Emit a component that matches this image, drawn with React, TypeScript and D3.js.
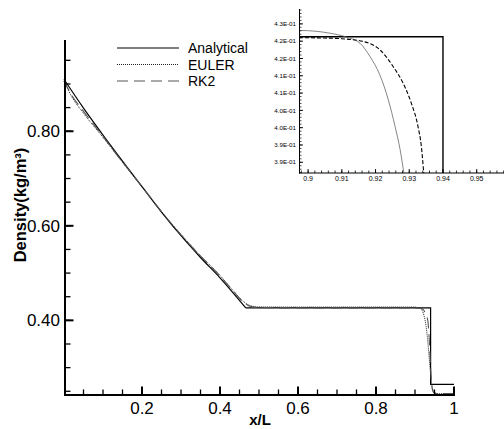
import React from "react";
import * as d3 from "d3";

// Analytical solution: rarefaction fan, then plateau and jump
const fanX = [0, 0.05, 0.1, 0.15, 0.2, 0.25, 0.3, 0.35, 0.4, 0.466];
const fanRho = [0.91, 0.849, 0.792, 0.737, 0.683, 0.629, 0.579, 0.533, 0.49, 0.4263];
const stepX = [0.466, 0.94, 0.94, 1.0];
const stepRho = [0.4263, 0.4263, 0.2645, 0.2645];

// Explicit Euler time integration
const eulerX = [
  0, 0.02, 0.05, 0.1, 0.15, 0.2, 0.25, 0.3, 0.35, 0.4, 0.44, 0.46, 0.48, 0.5, 0.6, 0.7, 0.8, 0.85,
  0.8976, 0.9065, 0.911, 0.9154, 0.9184, 0.9213, 0.9238, 0.9258, 0.9273, 0.9284, 0.93, 0.932, 0.935,
  0.938, 0.941, 0.944, 0.948, 0.953, 0.96, 1.0,
];
const eulerRho = [
  0.906, 0.873, 0.838, 0.787, 0.734, 0.682, 0.63, 0.582, 0.537, 0.495, 0.457, 0.44, 0.4305, 0.4285,
  0.4281, 0.4281, 0.4282, 0.4282, 0.4281, 0.4273, 0.4263, 0.4244, 0.4205, 0.4152, 0.408, 0.4003,
  0.3936, 0.3869, 0.377, 0.362, 0.335, 0.305, 0.278, 0.26, 0.25, 0.246, 0.245, 0.245,
];

// Second-order Runge-Kutta time integration
const rk2X = [
  0, 0.02, 0.05, 0.1, 0.15, 0.2, 0.25, 0.3, 0.35, 0.4, 0.44, 0.46, 0.48, 0.5, 0.6, 0.7, 0.8, 0.85,
  0.8973, 0.905, 0.91, 0.9164, 0.9213, 0.9252, 0.9282, 0.9306, 0.9326, 0.9336, 0.9343, 0.936, 0.938,
  0.94, 0.942, 0.944, 0.947, 0.952, 1.0,
];
const rk2Rho = [
  0.907, 0.876, 0.842, 0.789, 0.735, 0.683, 0.63, 0.581, 0.536, 0.494, 0.456, 0.438, 0.429, 0.427,
  0.4263, 0.4262, 0.4261, 0.4261, 0.426, 0.4259, 0.4257, 0.4249, 0.4225, 0.4177, 0.4128, 0.4071,
  0.4003, 0.3945, 0.3869, 0.368, 0.335, 0.3, 0.272, 0.256, 0.248, 0.2455, 0.245,
];

const xTicks = [0.2, 0.4, 0.6, 0.8, 1.0];
const xTickLabels = ["0.2", "0.4", "0.6", "0.8", "1"];
const yTicks = [0.4, 0.6, 0.8];
const yTickLabels = ["0.40", "0.60", "0.80"];

const insetXTicks = [0.9, 0.91, 0.92, 0.93, 0.94, 0.95];
const insetXTickLabels = ["0.9", "0.91", "0.92", "0.93", "0.94", "0.95"];
const insetYTicks = [0.39, 0.395, 0.4, 0.405, 0.41, 0.415, 0.42, 0.425, 0.43];
const insetYTickLabels = [
  "3.9E-01", "3.9E-01", "4.0E-01", "4.0E-01", "4.1E-01", "4.1E-01", "4.2E-01", "4.2E-01", "4.3E-01",
];

const legendNames = ["Analytical", "EULER", "RK2"];

const FONT = "'Liberation Sans', Arial, Helvetica, sans-serif";

const zip = (xs: number[], ys: number[]): [number, number][] => xs.map((x, i) => [x, ys[i]]);

export default function App() {
  const W = 504;
  const H = 429;

  // main frame
  const x = d3.scaleLinear().domain([0, 1]).range([64, 454]);
  const y = d3.scaleLinear().domain([0.24, 0.993]).range([396, 40]);

  // inset frame
  const ix = d3.scaleLinear().domain([0.8973, 0.9581]).range([299, 504]);
  const iy = d3.scaleLinear().domain([0.3869, 0.4343]).range([173, 9]);

  const smooth = (sx: any, sy: any) =>
    d3.line<[number, number]>().x((d) => sx(d[0])).y((d) => sy(d[1])).curve(d3.curveMonotoneX);
  const straight = (sx: any, sy: any) =>
    d3.line<[number, number]>().x((d) => sx(d[0])).y((d) => sy(d[1])).curve(d3.curveLinear);

  const fan = zip(fanX, fanRho);
  const step = zip(stepX, stepRho);
  const euler = zip(eulerX, eulerRho);
  const rk2 = zip(rk2X, rk2Rho);

  const xMinor = d3.range(0.05, 1.0001, 0.05);
  const yMinor = d3.range(0.25, 0.9501, 0.05);
  const ixMinor = d3.range(0.898, 0.9581, 0.002);
  const iyMinor = d3.range(0.387, 0.4343, 0.001);

  const styles = {
    analytical: { stroke: "#000", strokeWidth: 1.2, dash: undefined as string | undefined },
    euler: { stroke: "#222", strokeWidth: 1, dash: "1,1" },
    rk2: { stroke: "#555", strokeWidth: 1.1, dash: "11,6" },
  };
  const legendStyles = [styles.analytical, styles.euler, styles.rk2];
  const legendY = [48, 64.5, 81];

  return (
    <svg
      width={W}
      height={H}
      style={{ position: "absolute", left: 0, top: 0, background: "#fff" }}
      fontFamily={FONT}
    >
      <defs>
        <clipPath id="insetClip">
          <rect x={299} y={9} width={205} height={164} />
        </clipPath>
      </defs>
      <rect x={0} y={0} width={W} height={H} fill="#fff" />

      {/* main curves */}
      <g fill="none">
        <path d={smooth(x, y)(fan) || ""} stroke={styles.analytical.stroke} strokeWidth={styles.analytical.strokeWidth} />
        <path d={straight(x, y)(step) || ""} stroke={styles.analytical.stroke} strokeWidth={styles.analytical.strokeWidth} />
        <path d={smooth(x, y)(euler) || ""} stroke={styles.euler.stroke} strokeWidth={styles.euler.strokeWidth} strokeDasharray={styles.euler.dash} />
        <path d={smooth(x, y)(rk2) || ""} stroke={styles.rk2.stroke} strokeWidth={styles.rk2.strokeWidth} strokeDasharray={styles.rk2.dash} />
      </g>

      {/* main axes */}
      <g stroke="#000">
        <line x1={64} x2={455} y1={395} y2={395} strokeWidth={2} />
        <line x1={65} x2={65} y1={40} y2={396} strokeWidth={2} />
        {xMinor.map((v, i) => (
          <line key={"xm" + i} x1={x(v)} x2={x(v)} y1={395} y2={389.5} strokeWidth={1.3} />
        ))}
        {xTicks.map((v, i) => (
          <line key={"xM" + i} x1={x(v)} x2={x(v)} y1={395} y2={386.5} strokeWidth={2} />
        ))}
        {yMinor.map((v, i) => (
          <line key={"ym" + i} x1={65} x2={70.5} y1={y(v)} y2={y(v)} strokeWidth={1.3} />
        ))}
        {yTicks.map((v, i) => (
          <line key={"yM" + i} x1={65} x2={73.5} y1={y(v)} y2={y(v)} strokeWidth={2} />
        ))}
      </g>
      <g fontSize={17} fill="#000">
        {xTicks.map((v, i) => (
          <text key={"xl" + i} x={x(v)} y={414} textAnchor="middle">
            {xTickLabels[i]}
          </text>
        ))}
        {yTicks.map((v, i) => (
          <text key={"yl" + i} x={60} y={y(v) + 6} textAnchor="end">
            {yTickLabels[i]}
          </text>
        ))}
      </g>
      <text x={260} y={425} textAnchor="middle" fontSize={15} fontWeight="bold">
        x/L
      </text>
      <text
        transform="translate(26,205) rotate(-90)"
        textAnchor="middle"
        fontSize={16.5}
        fontWeight="bold"
      >
        Density(kg/m³)
      </text>

      {/* legend */}
      <g>
        {legendNames.map((name, i) => (
          <g key={name}>
            <line
              x1={117}
              x2={179}
              y1={legendY[i]}
              y2={legendY[i]}
              stroke={legendStyles[i].stroke}
              strokeWidth={legendStyles[i].strokeWidth}
              strokeDasharray={legendStyles[i].dash}
            />
            <text x={188} y={legendY[i] + 5} fontSize={14}>
              {name}
            </text>
          </g>
        ))}
      </g>

      {/* inset zoom on the front */}
      <g fill="none" clipPath="url(#insetClip)">
        <path d={straight(ix, iy)(step) || ""} stroke="#000" strokeWidth={1.4} />
        <path d={smooth(ix, iy)(euler) || ""} stroke="#666" strokeWidth={0.8} />
        <path d={smooth(ix, iy)(rk2) || ""} stroke="#000" strokeWidth={1.1} strokeDasharray="4,2" />
      </g>
      <g stroke="#000">
        <line x1={299} x2={504} y1={173} y2={173} strokeWidth={1} />
        <line x1={299.5} x2={299.5} y1={9} y2={173.5} strokeWidth={1} />
        {ixMinor.map((v, i) => (
          <line key={"ixm" + i} x1={ix(v)} x2={ix(v)} y1={173} y2={170.5} strokeWidth={0.8} />
        ))}
        {insetXTicks.map((v, i) => (
          <line key={"ixM" + i} x1={ix(v)} x2={ix(v)} y1={173} y2={169} strokeWidth={0.9} />
        ))}
        {iyMinor.map((v, i) => (
          <line key={"iym" + i} x1={299.5} x2={301.5} y1={iy(v)} y2={iy(v)} strokeWidth={0.7} />
        ))}
        {insetYTicks.map((v, i) => (
          <line key={"iyM" + i} x1={299.5} x2={303} y1={iy(v)} y2={iy(v)} strokeWidth={0.9} />
        ))}
      </g>
      <g fill="#000">
        {insetXTicks.map((v, i) => (
          <text key={"ixl" + i} x={ix(v)} y={181} textAnchor="middle" fontSize={7}>
            {insetXTickLabels[i]}
          </text>
        ))}
        {insetYTicks.map((v, i) => (
          <text key={"iyl" + i} x={296} y={iy(v) + 2.2} textAnchor="end" fontSize={6.2}>
            {insetYTickLabels[i]}
          </text>
        ))}
      </g>
    </svg>
  );
}
